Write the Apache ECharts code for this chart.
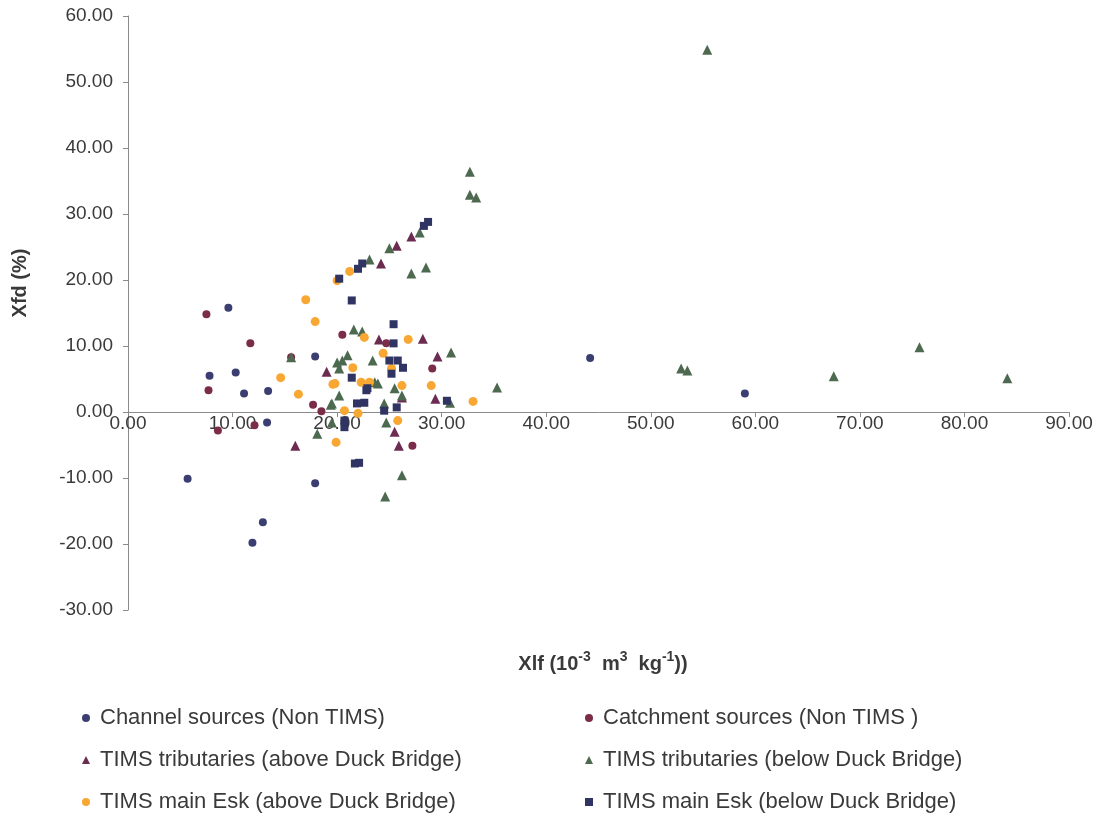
<!DOCTYPE html>
<html><head><meta charset="utf-8">
<script src="https://cdn.jsdelivr.net/npm/echarts@6/dist/echarts.min.js"></script>
<style>html,body{margin:0;padding:0;background:#fff}#c{width:1113px;height:824px}</style>
</head><body><div id="c"></div>
<script>
// ---- data (Xlf, Xfd) ----
const seriesNames = [
  'Channel sources (Non TIMS)',
  'Catchment sources (Non TIMS )',
  'TIMS tributaries (above Duck Bridge)',
  'TIMS tributaries (below Duck Bridge)',
  'TIMS main Esk (above Duck Bridge)',
  'TIMS main Esk (below Duck Bridge)'
];
const channelSources = [
  [9.6,15.8],[7.8,5.5],[10.3,6.0],[11.1,2.8],[13.4,3.2],[17.9,8.4],[13.3,-1.6],
  [5.7,-10.1],[12.9,-16.7],[11.9,-19.8],[17.9,-10.8],[44.2,8.2],[59.0,2.8]
];
const catchmentSources = [
  [7.5,14.8],[11.7,10.4],[7.7,3.3],[15.6,8.3],[17.7,1.1],[18.5,0.1],[8.6,-2.8],
  [12.1,-2.0],[20.5,11.7],[29.1,6.6],[24.7,10.4],[27.2,-5.1]
];
const tribAbove = [
  [27.1,26.6],[25.7,25.2],[24.2,22.5],[19.0,6.1],[24.0,11.0],[28.2,11.1],[29.6,8.4],
  [29.4,2.0],[26.2,2.2],[25.5,-3.0],[25.9,-5.1],[16.0,-5.1]
];
const tribBelow = [
  [32.7,36.4],[32.7,32.9],[33.3,32.5],[27.9,27.2],[25.0,24.8],[23.1,23.1],[27.1,21.0],
  [28.5,21.9],[15.6,8.3],[20.0,7.5],[19.4,1.1],[19.5,-1.6],[18.1,-3.3],[21.6,12.5],
  [22.4,12.2],[30.9,9.0],[35.3,3.7],[21.0,8.6],[20.5,7.8],[20.2,6.6],[23.4,7.8],
  [23.9,4.3],[25.5,3.6],[26.2,2.5],[20.2,2.5],[19.5,1.3],[24.5,1.3],[24.7,-1.6],
  [26.2,-9.6],[24.6,-12.8],[55.4,54.9],[52.9,6.6],[53.5,6.3],[67.5,5.4],[75.7,9.8],
  [84.1,5.1],[23.6,4.5],[30.8,1.4]
];
const eskAbove = [
  [21.2,21.3],[20.0,19.9],[17.0,17.0],[17.9,13.7],[14.6,5.2],[16.3,2.7],[19.6,4.2],
  [22.6,11.3],[26.8,11.0],[33.0,1.6],[29.0,4.0],[21.5,6.7],[24.4,8.9],[25.2,6.6],
  [19.8,4.3],[22.3,4.5],[23.1,4.5],[26.2,4.0],[20.7,0.2],[22.0,-0.2],[25.8,-1.3],[19.9,-4.6]
];
const eskBelow = [
  [28.7,28.8],[28.3,28.2],[22.4,22.5],[22.0,21.7],[20.2,20.2],[21.4,16.9],[25.4,13.3],
  [25.4,10.4],[25.0,7.8],[25.8,7.8],[26.3,6.7],[25.2,5.8],[21.4,5.2],[22.8,3.3],
  [22.6,1.4],[21.9,1.3],[24.5,0.2],[25.7,0.7],[20.7,-1.3],[20.7,-2.3],[21.7,-7.8],
  [22.1,-7.7],[30.5,1.7],[22.9,3.6]
];
const xMin = 0, xMax = 90, xStep = 10;
const yMin = -30, yMax = 60, yStep = 10;

const font = '"Liberation Sans", Arial, sans-serif';
const W = 1113, H = 824;
const grid = {left:128, right:44, top:16, bottom:214};
const plotH = H - grid.top - grid.bottom;
// x axis drawn where y = 0 (labels follow the line)
const xAxisOffset = -plotH * (0 - yMin) / (yMax - yMin);

const chart = echarts.init(document.getElementById('c'), null, {renderer:'canvas', width:W, height:H});

function sc(name, data, symbol, size, color) {
  return { type:'scatter', name, data, symbol, symbolSize:size,
    itemStyle:{color, opacity:1}, emphasis:{disabled:true}, z:2 };
}

const legendText = {fontSize:22, color:'#3a3a3a', fontFamily:font, padding:[0,0,0,5]};
const axisColor = '#8a8a8a';
const labelColor = '#3a3a3a';

chart.setOption({
  animation:false,
  backgroundColor:'#fff',
  grid:Object.assign({containLabel:false}, grid),
  xAxis:{
    type:'value', min:xMin, max:xMax, interval:xStep, position:'bottom', offset:xAxisOffset,
    axisLine:{show:true, onZero:false, lineStyle:{color:axisColor, width:1}},
    axisTick:{show:true, length:5, lineStyle:{color:axisColor}},
    axisLabel:{formatter:v=>v.toFixed(2), fontSize:19, color:labelColor, fontFamily:font, margin:2},
    splitLine:{show:false}
  },
  yAxis:{
    type:'value', min:yMin, max:yMax, interval:yStep,
    axisLine:{show:true, lineStyle:{color:axisColor, width:1}},
    axisTick:{show:true, length:5, lineStyle:{color:axisColor}},
    axisLabel:{formatter:v=>v.toFixed(2), fontSize:19, color:labelColor, fontFamily:font, margin:15},
    splitLine:{show:false}
  },
  legend:[
    {left:82, top:707, padding:0, orient:'vertical', itemGap:20, itemWidth:8, itemHeight:8,
     textStyle:legendText, data:[seriesNames[0], seriesNames[2], seriesNames[4]]},
    {left:585, top:707, padding:0, orient:'vertical', itemGap:20, itemWidth:8, itemHeight:8,
     textStyle:legendText, data:[seriesNames[1], seriesNames[3], seriesNames[5]]}
  ],
  graphic:[
    {type:'text', x:20, y:283, rotation:Math.PI/2,
     style:{text:'Xfd (%)', font:'bold 20px '+font, fill:labelColor, align:'center', verticalAlign:'middle', textAlign:'center', textVerticalAlign:'middle'}},
    {type:'text', x:603, y:662,
     style:{text:'{n|Xlf (10}{s|-3}{n|  m}{s|3}{n|  kg}{s|-1}{n|))}',
       align:'center', verticalAlign:'middle', textAlign:'center', textVerticalAlign:'middle',
       rich:{
         n:{fontSize:20, fontWeight:'bold', fontFamily:font, fill:labelColor, lineHeight:24, verticalAlign:'bottom'},
         s:{fontSize:14, fontWeight:'bold', fontFamily:font, fill:labelColor, lineHeight:24, verticalAlign:'top'}
       }}}
  ],
  series:[
    sc(seriesNames[0], channelSources, 'circle', 8, '#3b3e70'),
    sc(seriesNames[1], catchmentSources, 'circle', 8, '#7a2c48'),
    sc(seriesNames[2], tribAbove, 'triangle', 10, '#6c2c52'),
    sc(seriesNames[3], tribBelow, 'triangle', 10, '#4d6a50'),
    sc(seriesNames[4], eskAbove, 'circle', 9, '#f8a733'),
    sc(seriesNames[5], eskBelow, 'rect', 8, '#2f3462')
  ]
});
</script></body></html>
